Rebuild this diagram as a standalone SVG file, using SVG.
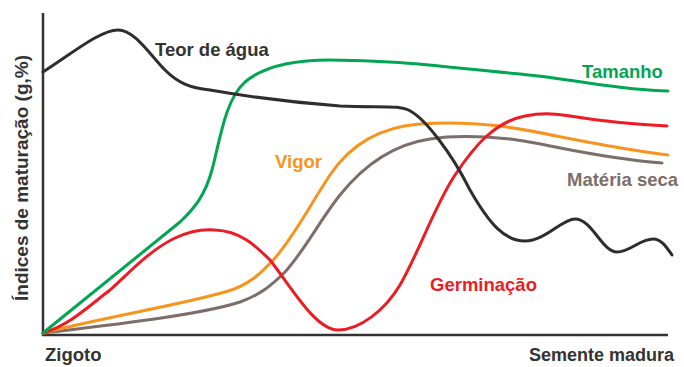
<svg xmlns="http://www.w3.org/2000/svg" width="684" height="367" viewBox="0 0 684 367">
<style>
text{font-family:"Liberation Sans",Arial,sans-serif;font-weight:bold;font-size:18.5px}
.c{fill:none;stroke-width:3;stroke-linecap:round;stroke-linejoin:round}
.ax{fill:none;stroke:#333;stroke-width:2.5}
</style>
<rect width="684" height="367" fill="#fff"/>
<g id="axes">
<path class="ax" d="M43,13 V335 H668"/>
<text x="45" y="361" fill="#333">Zigoto</text>
<text x="529" y="361" fill="#333" style="font-size:18px">Semente madura</text>
<text transform="translate(28,178) rotate(-90)" text-anchor="middle" fill="#333" style="font-size:19px">Índices de maturação (g,%)</text>
</g>
<g id="connectors">
<path id="brown" class="c" stroke="#7d6e69" d="M43,333 C110,325 200,315 240,302 C260,295 272,285 285,272 C305,250 320,220 340,195 C360,170 390,145 430,139 C455,135 480,136 510,139 C550,144 590,157 662,163"/>
<path id="orange" class="c" stroke="#f7941d" d="M43,333 C100,318 180,305 225,292 C250,285 262,272 275,258 C295,235 310,205 330,175 C350,145 380,127 420,124 C445,122 465,122 500,126 C540,131 590,145 668,155"/>
<path id="red" class="c" stroke="#ed1c24" d="M43,333 C70,325 90,305 110,290 C130,272 150,250 175,238 C190,231 205,229 215,230 C240,231 255,245 270,260 C290,285 315,330 338,330 C360,330 385,310 400,285 C420,250 435,205 455,175 C475,145 495,122 525,116 C545,112 555,114 570,116 C600,121 630,124 667,126"/>
<path id="green" class="c" stroke="#00a651" d="M43,333 L180,222 C195,208 205,195 212,170 C220,140 225,100 245,82 C265,65 300,60 330,60 C400,60 450,68 520,74 C580,80 620,90 668,91"/>
<path id="black" class="c" stroke="#2e2e2e" d="M43,72 C70,55 100,30 118,30 C135,30 150,55 165,70 C178,83 190,88 210,90 C250,97 300,103 340,106 C380,108 400,104 412,112 C425,120 450,150 470,190 C490,225 505,241 525,241 C545,241 562,219 575,219 C592,219 602,252 617,252 C630,252 640,239 653,239 C662,239 667,248 672,255"/>
</g>
<g id="teor"><text x="155" y="56" fill="#333">Teor de água</text></g>
<g id="tamanho"><text x="582" y="78" fill="#00a651">Tamanho</text></g>
<g id="vigor"><text x="275" y="168" fill="#f7941d">Vigor</text></g>
<g id="materia"><text x="567" y="186" fill="#7d6e69">Matéria seca</text></g>
<g id="germinacao"><text x="430" y="291" fill="#ed1c24">Germinação</text></g>
</svg>
